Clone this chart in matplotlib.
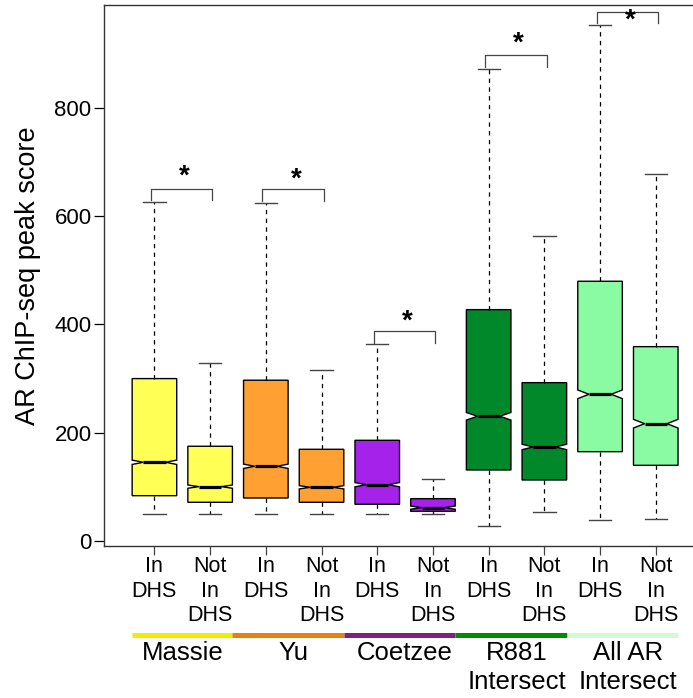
import numpy as np
import matplotlib.pyplot as plt

plt.rcParams['font.family'] = ['Liberation Sans', 'DejaVu Sans']

# ===== DATA =====
tick_labels = ["In\nDHS", "Not\nIn\nDHS"] * 5
groups = ["Massie", "Yu", "Coetzee", "R881\nIntersect", "All AR\nIntersect"]
q1 = [83.7, 71.5, 79.4, 71.5, 67.8, 54.8, 131.2, 112.7, 165.0, 139.8]
med = [145.4, 100.4, 138.0, 99.2, 104.0, 61.6, 230.4, 173.7, 271.0, 216.7]
q3 = [300.0, 175.0, 297.0, 169.4, 186.0, 78.2, 427.4, 292.5, 479.8, 359.0]
whislo = [50.5, 50.5, 50.5, 50.5, 50.5, 50.5, 28.3, 54.0, 38.8, 41.4]
whishi = [627.0, 329.5, 624.0, 316.0, 363.4, 114.0, 871.4, 563.5, 952.6, 678.0]
notch_half = [4, 3, 4, 3, 4, 3, 7, 5, 8, 8]
bracket_top = [651, 650, 387, 897, 977]
star_y = [673, 668, 406, 918, 962]

box_colors = ["#FFFF55", "#FFA033", "#A522EA", "#00882B", "#8AFBA3"]
bar_colors = ["#EEEE00", "#E8820C", "#7F1F7F", "#008C00", "#D4FAD4"]

# ===== BUILD STATS =====
stats = []
for i in range(len(med)):
    stats.append(dict(med=med[i], q1=q1[i], q3=q3[i], whislo=whislo[i], whishi=whishi[i],
                      cilo=med[i] - notch_half[i], cihi=med[i] + notch_half[i], fliers=[]))
pos = np.arange(1, len(med) + 1)

# ===== PLOT =====
fig = plt.figure(figsize=(6.93, 6.98), dpi=100)
ax = fig.add_axes([104.3 / 693, 152.3 / 698, 601.6 / 693, 540.4 / 698])

bp = ax.bxp(stats, positions=pos, widths=0.8, shownotches=True, patch_artist=True,
            showfliers=False,
            boxprops=dict(edgecolor="black", linewidth=1.0),
            medianprops=dict(color="black", linewidth=2.3, solid_capstyle="butt"),
            whiskerprops=dict(color="black", linewidth=0.9, linestyle=(0, (3.5, 3.5))),
            capprops=dict(color="#444444", linewidth=1.0))
for i, patch in enumerate(bp["boxes"]):
    patch.set_facecolor(box_colors[i // 2])

ax.set_xlim(0.1, 10.9)
ax.set_ylim(-8.7, 989.6)
ax.set_yticks([0, 200, 400, 600, 800])
ax.tick_params(axis="y", labelsize=16, length=7.2, width=0.9, pad=2)
ax.set_xticks(pos)
ax.set_xticklabels(tick_labels, fontsize=15.5, linespacing=1.2)
ax.tick_params(axis="x", length=6.7, width=0.9, pad=1, colors="#444444", labelcolor="black")
for s in ["left", "bottom", "top"]:
    ax.spines[s].set_color("#333333")
    ax.spines[s].set_linewidth(1.0)
ax.spines["right"].set_visible(False)

fig.text(28 / 693, 0.5 * (152.3 + 692.7) / 698, "AR ChIP-seq peak score", rotation=90,
         ha="center", va="center", fontsize=19.5)

# significance brackets
for k in range(5):
    x0, x1 = pos[2 * k] - 0.06, pos[2 * k + 1] + 0.04
    top = bracket_top[k]
    ax.plot([x0, x0, x1, x1], [top - 21, top, top, top - 21], color="#444444", lw=0.9,
            clip_on=False)
    ax.text((x0 + x1) / 2 + 0.05, star_y[k], "*", ha="center", va="center", fontsize=20,
            fontweight="bold")

# group colour bars and labels
trans = ax.get_xaxis_transform()
for k in range(5):
    start = pos[2 * k] - 0.4 if k == 0 else pos[2 * k] - 0.6
    ax.plot([start, pos[2 * k + 1] + 0.4], [-0.165, -0.165], color=bar_colors[k], lw=3.6,
            transform=trans, clip_on=False, solid_capstyle="butt")
    ax.text(pos[2 * k] + 0.5, -0.176, groups[k], transform=trans, ha="center", va="top",
            fontsize=18.5, linespacing=1.27)

fig.savefig("out.png", dpi=100)
